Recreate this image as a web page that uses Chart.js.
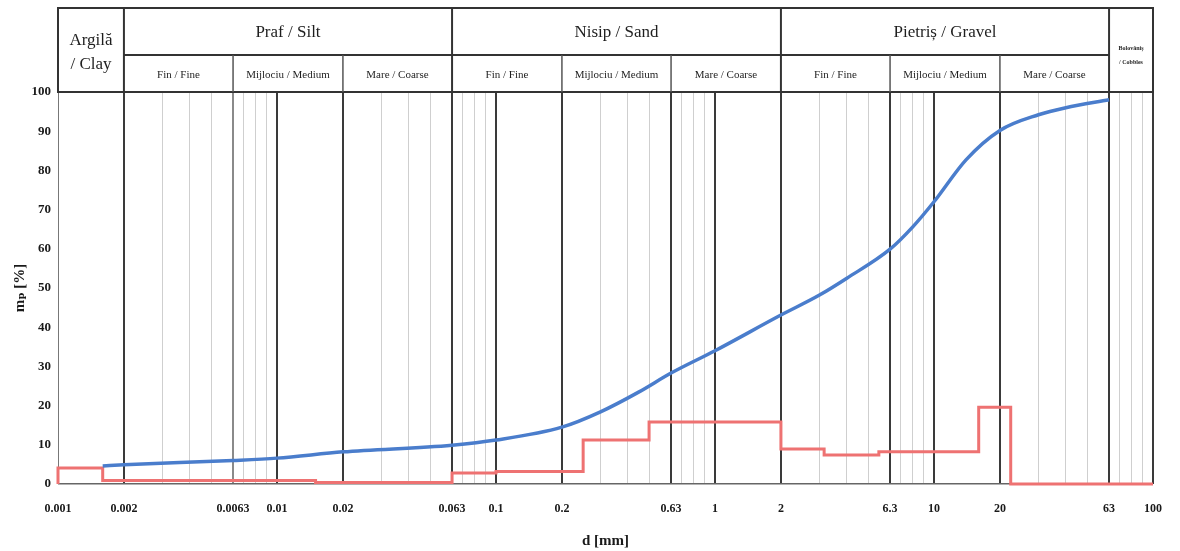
<!DOCTYPE html>
<html>
<head>
<meta charset="utf-8">
<script src="https://cdn.jsdelivr.net/npm/chart.js@4.4.1/dist/chart.umd.min.js"></script>
<style>
  body { margin: 0; background: #fff; }
  canvas { display: block; }
</style>
</head>
<body>
<canvas id="grading" width="1180" height="551"></canvas>
<script>
// Cumulative passing curve (blue)
const passSizes = [0.0016, 0.002, 0.0063, 0.01, 0.02, 0.063, 0.1, 0.2, 0.3, 0.45, 0.63, 1, 2, 3, 4, 6.3, 8, 10, 14, 20, 30, 40, 63];
const passValues = [4.6, 4.9, 6.0, 6.6, 8.2, 9.9, 11.2, 14.5, 18.4, 23.5, 28.3, 34.0, 43.1, 48.2, 52.5, 59.9, 65.6, 72.0, 82.7, 90.2, 94.2, 96.0, 98.0];

// Fraction retained per interval (red, stepped)
const fracSizes = [0.001, 0.001, 0.0016, 0.015, 0.063, 0.1, 0.25, 0.5, 2, 3.15, 5.6, 16, 22.4, 100];
const fracValues = [0, 4.1, 0.9, 0.4, 2.8, 3.2, 11.2, 15.8, 8.9, 7.4, 8.2, 19.6, 0, 0];

// x grid lines and labels
const majorLines = [0.002, 0.01, 0.02, 0.063, 0.1, 0.2, 0.63, 1, 2, 6.3, 10, 20, 63, 100];
const minorLines = [0.003, 0.004, 0.005, 0.007, 0.008, 0.009,
                    0.03, 0.04, 0.05, 0.07, 0.08, 0.09,
                    0.3, 0.4, 0.5, 0.7, 0.8, 0.9,
                    3, 4, 5, 7, 8, 9,
                    30, 40, 50, 70, 80, 90];
const xLabels = ["0.001", "0.002", "0.0063", "0.01", "0.02", "0.063", "0.1", "0.2", "0.63", "1", "2", "6.3", "10", "20", "63", "100"];

// soil classes for the header
const mainClasses = [
  { from: 0.002, to: 0.063, name: "Praf / Silt" },
  { from: 0.063, to: 2, name: "Nisip / Sand" },
  { from: 2, to: 63, name: "Pietriș / Gravel" }
];
const subBounds = [0.002, 0.0063, 0.02, 0.063, 0.2, 0.63, 2, 6.3, 20, 63];
const subNames = ["Fin / Fine", "Mijlociu / Medium", "Mare / Coarse"];

const serif = "'Liberation Serif', 'DejaVu Serif', serif";

const gridValues = [0.001, 0.0063].concat(majorLines, minorLines).sort((a, b) => a - b);

const lineColor = (v) => {
  if (majorLines.includes(v)) return "#3a3a3a";
  if (v === 0.0063) return "#8a8a8a";
  if (v === 0.001) return "#777";
  return "#cfcfcf";
};
const lineWidth = (v) => {
  if (majorLines.includes(v) || v === 0.0063) return 2;
  return 1;
};

const headerPlugin = {
  id: "header",
  afterDraw(chart) {
    const ctx = chart.ctx;
    const x = chart.scales.x;
    const top = 8, mid = 55, bottom = chart.chartArea.top;
    const left = chart.chartArea.left, right = chart.chartArea.right;
    const px = (v) => x.getPixelForValue(v);

    ctx.save();
    ctx.strokeStyle = "#333";
    ctx.lineWidth = 2;
    ctx.strokeRect(left, top, right - left, bottom - top);

    // row divider across silt, sand and gravel
    ctx.beginPath();
    ctx.moveTo(px(0.002), mid);
    ctx.lineTo(px(63), mid);
    ctx.stroke();

    // main boundaries
    [0.002, 0.063, 2, 63].forEach((v) => {
      ctx.beginPath();
      ctx.moveTo(px(v), top);
      ctx.lineTo(px(v), bottom);
      ctx.stroke();
    });

    // sub boundaries
    ctx.lineWidth = 1.5;
    ctx.strokeStyle = "#555";
    [0.0063, 0.02, 0.2, 0.63, 6.3, 20].forEach((v) => {
      ctx.beginPath();
      ctx.moveTo(px(v), mid);
      ctx.lineTo(px(v), bottom);
      ctx.stroke();
    });

    ctx.fillStyle = "#1e1e1e";
    ctx.textAlign = "center";
    ctx.textBaseline = "middle";

    ctx.font = "17px " + serif;
    mainClasses.forEach((c) => {
      ctx.fillText(c.name, (px(c.from) + px(c.to)) / 2, 33);
    });
    ctx.fillText("Argilă", (left + px(0.002)) / 2, 41);
    ctx.fillText("/ Clay", (left + px(0.002)) / 2, 65);

    ctx.font = "11px " + serif;
    for (let i = 0; i < subBounds.length - 1; i++) {
      ctx.fillText(subNames[i % 3], (px(subBounds[i]) + px(subBounds[i + 1])) / 2, 75);
    }

    ctx.font = "bold 6px " + serif;
    ctx.fillText("Bolovăniș", (px(63) + right) / 2, 48);
    ctx.fillText("/ Cobbles", (px(63) + right) / 2, 62);
    ctx.restore();
  }
};

new Chart(document.getElementById("grading"), {
  type: "line",
  data: {
    datasets: [
      {
        data: passSizes.map((s, i) => ({ x: s, y: passValues[i] })),
        borderColor: "#4a7dcc",
        borderWidth: 3.5,
        pointRadius: 0,
        cubicInterpolationMode: "monotone",
        fill: false
      },
      {
        data: fracSizes.map((s, i) => ({ x: s, y: fracValues[i] })),
        borderColor: "#ee7272",
        borderWidth: 3,
        pointRadius: 0,
        stepped: "before",
        fill: false,
        clip: 4
      }
    ]
  },
  options: {
    responsive: false,
    devicePixelRatio: 1,
    animation: false,
    layout: { padding: { top: 92, right: 27, left: 0, bottom: 0 } },
    plugins: {
      legend: { display: false },
      tooltip: { enabled: false }
    },
    scales: {
      x: {
        type: "logarithmic",
        min: 0.001,
        max: 100,
        afterBuildTicks: (scale) => {
          scale.ticks = gridValues.map((v) => ({ value: v }));
        },
        afterFit: (scale) => { scale.height = 67; },
        grid: {
          drawTicks: false,
          color: (c) => lineColor(c.tick.value),
          lineWidth: (c) => lineWidth(c.tick.value)
        },
        border: { display: false },
        ticks: {
          autoSkip: false,
          maxRotation: 0,
          padding: 18,
          color: "#1a1a1a",
          font: { family: serif, size: 12, weight: "bold" },
          callback: (value) => {
            const s = String(value);
            return xLabels.includes(s) ? s : "";
          }
        },
        title: {
          display: true,
          text: "d [mm]",
          color: "#1a1a1a",
          font: { family: serif, size: 15, weight: "bold" },
          padding: { top: 0, bottom: 1 }
        }
      },
      y: {
        min: 0,
        max: 100,
        afterFit: (scale) => { scale.width = 58; },
        grid: {
          drawTicks: false,
          color: (c) => (c.tick.value === 0 ? "#666" : c.tick.value === 100 ? "#333" : "rgba(0,0,0,0)"),
          lineWidth: (c) => (c.tick.value === 100 ? 2 : 1.5)
        },
        border: { display: false },
        ticks: {
          stepSize: 10,
          padding: 7,
          color: "#1a1a1a",
          font: { family: serif, size: 13, weight: "bold" }
        },
        title: {
          display: true,
          text: "mₚ [%]",
          color: "#1a1a1a",
          font: { family: serif, size: 15, weight: "bold" },
          padding: { top: 11, bottom: 0 }
        }
      }
    }
  },
  plugins: [headerPlugin]
});
</script>
</body>
</html>
